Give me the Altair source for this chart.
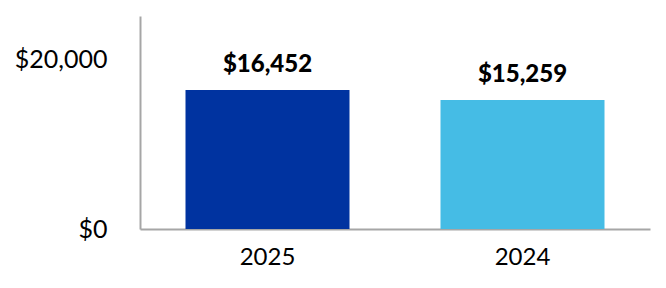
import altair as alt
import pandas as pd

years = ["2025", "2024"]
values = [16452, 15259]
labels = ["$16,452", "$15,259"]
colors = ["#0033A0", "#45BCE5"]

df = pd.DataFrame({"year": years, "value": values, "label": labels, "color": colors})

base = alt.Chart(df).encode(
    x=alt.X("year:N", sort=years, title=None,
            scale=alt.Scale(paddingInner=0, paddingOuter=0),
            axis=alt.Axis(labelAngle=0, labelFont="Lato", labelFontSize=24,
                          labelColor="#000000", ticks=False, labelPadding=16,
                          domainColor="#A6A6A6", domainWidth=2)),
    y=alt.Y("value:Q", title=None,
            scale=alt.Scale(domain=[0, 25200], nice=False),
            axis=alt.Axis(values=[0, 20000], format="$,.0f", grid=False, ticks=False,
                          labelFont="Lato", labelFontSize=25, labelColor="#000000",
                          labelPadding=33, domainColor="#A6A6A6", domainWidth=2)),
)

bars = base.mark_bar(size=164).encode(color=alt.Color("color:N", scale=None))
text = base.mark_text(font="Lato", fontSize=24, fontWeight=900, color="#000000",
                      baseline="alphabetic", dy=-18).encode(text="label:N")

chart = (bars + text).properties(
    width=510, height=213,
    background="white",
    padding={"left": 140, "top": 16, "right": 16, "bottom": 59},
    autosize=alt.AutoSizeParams(type="none"),
).configure_view(stroke=None, strokeWidth=0)

chart.save("out.html", embed_options={"renderer": "svg", "actions": False})
